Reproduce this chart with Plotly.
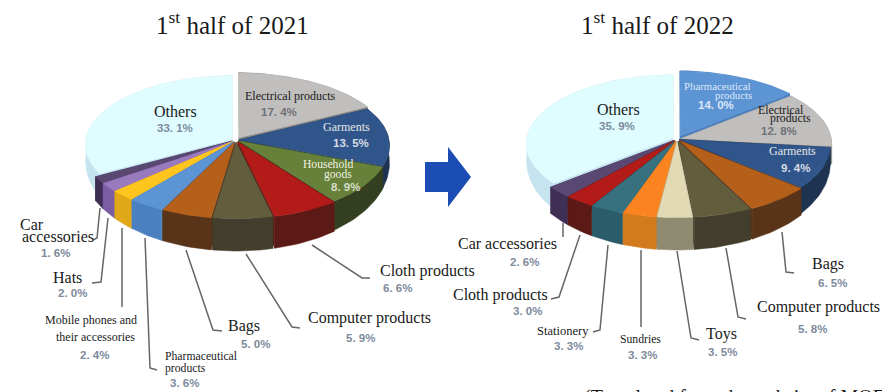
import math
import plotly.graph_objects as go

# Share of each product group, first half of 2021 (clockwise from 12 o'clock)
categories_2021 = ["Electrical products", "Garments", "Household goods", "Cloth products",
                   "Computer products", "Bags", "Pharmaceutical products",
                   "Mobile phones and their accessories", "Hats", "Car accessories", "Others"]
values_2021 = [17.4, 13.5, 8.9, 6.6, 5.9, 5.0, 3.6, 2.4, 2.0, 1.6, 33.1]

# Share of each product group, first half of 2022
categories_2022 = ["Pharmaceutical products", "Electrical products", "Garments", "Bags",
                   "Computer products", "Toys", "Sundries", "Stationery", "Cloth products",
                   "Car accessories", "Others"]
values_2022 = [14.0, 12.8, 9.4, 6.5, 5.8, 3.5, 3.3, 3.3, 3.0, 2.6, 35.9]

# Top-face and side-wall colours by group
TOP = {"Electrical products": "#c1bfbd", "Garments": "#30558a", "Household goods": "#67813a",
       "Cloth products": "#b31b18", "Computer products": "#625d3c", "Bags": "#b4601a",
       "Pharmaceutical products": "#5c94d4", "Mobile phones and their accessories": "#fec51f",
       "Hats": "#9a7abf", "Car accessories": "#594872", "Others": "#dffcff",
       "Toys": "#e2dab4", "Sundries": "#fb8420", "Stationery": "#37717f"}
SIDE = {"Electrical products": "#8f8d8b", "Garments": "#1d3350", "Household goods": "#333f20",
        "Cloth products": "#5c1a16", "Computer products": "#423d2c", "Bags": "#5a3418",
        "Pharmaceutical products": "#4a80bf", "Mobile phones and their accessories": "#e0a818",
        "Hats": "#7c5ca2", "Car accessories": "#3f2f55", "Others": "#c6e4f0",
        "Toys": "#8f8b70", "Sundries": "#d27a1e", "Stationery": "#2b5c6a"}

# Projection of the tilted disc; the wall shortens towards the back
RX, RY, TILT, WALL = 150, 70, 0.08, 16
OTHERS_RADIUS = 0.975
PANELS = [
    dict(values=values_2021, names=categories_2021, cx=236, cy=140,
         explode=[0.04, 0.02, 0.02, 0.03, 0.03, 0.03, 0.03, 0.03, 0.03, 0.03, 0.03]),
    dict(values=values_2022, names=categories_2022, cx=677, cy=139,
         explode=[0.05, 0.03, 0.02, 0.03, 0.03, 0.03, 0.03, 0.03, 0.03, 0.03, 0.03]),
]


def project(panel, px, py, low=False):
    s = 1 / (1 + TILT * py)
    drop = WALL * (1 - py) if low else 0.0
    return panel["cx"] + RX * px * s, panel["cy"] - RY * py * s + drop


def wedge(a0, a1, ex, radius):
    """Ground-plane outline of a slice, pushed out along its mid angle."""
    mid = (a0 + a1) / 2
    ox, oy = ex * math.sin(mid), ex * math.cos(mid)
    steps = max(4, int((a1 - a0) * 40))
    rim = [(ox + radius * math.sin(a0 + (a1 - a0) * i / steps),
            oy + radius * math.cos(a0 + (a1 - a0) * i / steps))
           for i in range(steps + 1)]
    return (ox, oy), rim


def poly(fig, pts, color):
    fig.add_trace(go.Scatter(x=[p[0] for p in pts] + [pts[0][0]],
                             y=[p[1] for p in pts] + [pts[0][1]],
                             mode="lines", fill="toself", fillcolor=color,
                             line=dict(width=0.5, color=color), hoverinfo="skip"))


fig = go.Figure()

for panel in PANELS:
    total = sum(panel["values"])
    angle = 0.0
    slices = []
    for name, val, ex in zip(panel["names"], panel["values"], panel["explode"]):
        a1 = angle + val / total * 2 * math.pi
        slices.append((name, angle, a1, ex))
        angle = a1
    # Paint from the back of the disc towards the viewer
    slices.sort(key=lambda s: -math.cos((s[1] + s[2]) / 2))
    for name, a0, a1, ex in slices:
        apex, rim = wedge(a0, a1, ex, OTHERS_RADIUS if name == "Others" else 1.0)
        top_apex = project(panel, *apex)
        low_apex = project(panel, *apex, low=True)
        top_rim = [project(panel, *p) for p in rim]
        low_rim = [project(panel, *p, low=True) for p in rim]
        poly(fig, [top_apex, top_rim[0], low_rim[0], low_apex], SIDE[name])
        poly(fig, [top_apex, top_rim[-1], low_rim[-1], low_apex], SIDE[name])
        poly(fig, top_rim + low_rim[::-1], SIDE[name])
        poly(fig, [top_apex] + top_rim, TOP[name])

# Arrow between the two pies
arrow_x = [425, 448, 448, 471, 448, 448, 425, 425]
arrow_y = [162, 162, 147, 177, 207, 192, 192, 162]
fig.add_trace(go.Scatter(x=arrow_x, y=arrow_y, mode="lines", fill="toself",
                         fillcolor="#1c4db4", line=dict(width=0), hoverinfo="skip"))

# Leader lines from the pie rims to their labels
LEADERS = [
    [(100, 208), (97, 238), (93, 240)], [(108, 218), (101, 282), (92, 283)],
    [(122, 228), (122, 307)], [(145, 238), (150, 368), (157, 370)],
    [(186, 250), (213, 330), (222, 331)], [(246, 254), (292, 327), (300, 328)],
    [(312, 245), (362, 278), (370, 278)],
    [(563, 223), (563, 237)], [(580, 235), (559, 297), (551, 299)],
    [(608, 245), (600, 330), (593, 332)], [(641, 250), (641, 327)],
    [(677, 251), (691, 338), (699, 340)], [(726, 248), (738, 317), (746, 319)],
    [(782, 232), (786, 272), (794, 273)],
]
for pts in LEADERS:
    fig.add_trace(go.Scatter(x=[p[0] for p in pts], y=[p[1] for p in pts], mode="lines",
                             line=dict(color="#666666", width=1.5), hoverinfo="skip"))

SERIF = "Liberation Serif"
SANS = "Liberation Sans"
annotations = []


def text(x, y, s, size, color="#1a1a1a", font=SERIF, bold=False, anchor="center"):
    annotations.append(dict(x=x, y=y, text=f"<b>{s}</b>" if bold else s, showarrow=False,
                            xanchor=anchor, yanchor="middle", align="center",
                            font=dict(family=font, size=size, color=color)))


def pct(v):
    return f"{v:.1f}%".replace(".", ". ")


SOFT = "#7d8a9c"
PS = 11.5
text(232, 23, "1<sup>st</sup> half of 2021", 25)
text(657, 23, "1<sup>st</sup> half of 2022", 25)

V21 = dict(zip(categories_2021, values_2021))
V22 = dict(zip(categories_2022, values_2022))

text(175, 111, "Others", 16)
text(175, 128, pct(V21["Others"]), PS, SOFT, SANS, True)
text(290, 96, "Electrical products", 12)
text(279, 112, pct(V21["Electrical products"]), PS, "#6f7078", SANS, True)
text(346, 127, "Garments", 12, "#e6e6e6")
text(351, 143, pct(V21["Garments"]), PS, "#d8dde6", SANS, True)
text(328, 164, "Household", 11.6, "#f0f0e0")
text(338, 174, "goods", 11.6, "#f0f0e0")
text(345, 187, pct(V21["Household goods"]), PS, "#d8dcc8", SANS, True)
text(427, 271, "Cloth products", 16)
text(397, 288, pct(V21["Cloth products"]), PS, SOFT, SANS, True)
text(369, 318, "Computer products", 16)
text(360, 338, pct(V21["Computer products"]), PS, SOFT, SANS, True)
text(244, 326, "Bags", 16)
text(255, 344, pct(V21["Bags"]), PS, SOFT, SANS, True)
text(163, 356, "Pharmaceutical", 11.7, anchor="left")
text(163, 368, "products", 11.7, anchor="left")
text(184, 383, pct(V21["Pharmaceutical products"]), PS, SOFT, SANS, True)
text(91, 320, "Mobile phones and", 12)
text(95, 337, "their accessories", 12)
text(94, 355, pct(V21["Mobile phones and their accessories"]), PS, SOFT, SANS, True)
text(67, 277, "Hats", 16)
text(72, 293, pct(V21["Hats"]), PS, SOFT, SANS, True)
text(18, 224, "Car", 16, anchor="left")
text(20, 236, "accessories", 16, anchor="left")
text(55, 253, pct(V21["Car accessories"]), PS, SOFT, SANS, True)

text(618, 109, "Others", 16)
text(617, 126, pct(V22["Others"]), PS, SOFT, SANS, True)
text(717, 86, "Pharmaceutical", 10.8, "#dce8f8")
text(733, 95, "products", 10.8, "#dce8f8")
text(716, 105, pct(V22["Pharmaceutical products"]), PS, "#dce8f8", SANS, True)
text(781, 110, "Electrical", 11.8)
text(790, 118, "products", 11.8)
text(779, 131, pct(V22["Electrical products"]), PS, "#6f7078", SANS, True)
text(792, 151, "Garments", 12, "#e6e6e6")
text(795, 168, pct(V22["Garments"]), PS, "#d8dde6", SANS, True)
text(828, 264, "Bags", 16)
text(832, 283, pct(V22["Bags"]), PS, SOFT, SANS, True)
text(818, 307, "Computer products", 16)
text(812, 329, pct(V22["Computer products"]), PS, SOFT, SANS, True)
text(721, 334, "Toys", 16)
text(722, 352, pct(V22["Toys"]), PS, SOFT, SANS, True)
text(640, 339, "Sundries", 11.7)
text(642, 355, pct(V22["Sundries"]), PS, SOFT, SANS, True)
text(563, 331, "Stationery", 12.5)
text(568, 346, pct(V22["Stationery"]), PS, SOFT, SANS, True)
text(500, 295, "Cloth products", 16)
text(527, 311, pct(V22["Cloth products"]), PS, SOFT, SANS, True)
text(507, 243, "Car accessories", 16)
text(524, 262, pct(V22["Car accessories"]), PS, SOFT, SANS, True)

annotations.append(dict(x=582, y=384, text="(Translated from the website of MOFCOM)", showarrow=False,
                        xanchor="left", yanchor="top",
                        font=dict(family=SERIF, size=20, color="#1a1a1a")))

fig.update_layout(
    width=882, height=392, margin=dict(l=0, r=0, t=0, b=0), showlegend=False,
    paper_bgcolor="white", plot_bgcolor="white", annotations=annotations,
    xaxis=dict(range=[0, 882], visible=False, fixedrange=True),
    yaxis=dict(range=[392, 0], visible=False, fixedrange=True),
)
fig.write_html("out.html")
